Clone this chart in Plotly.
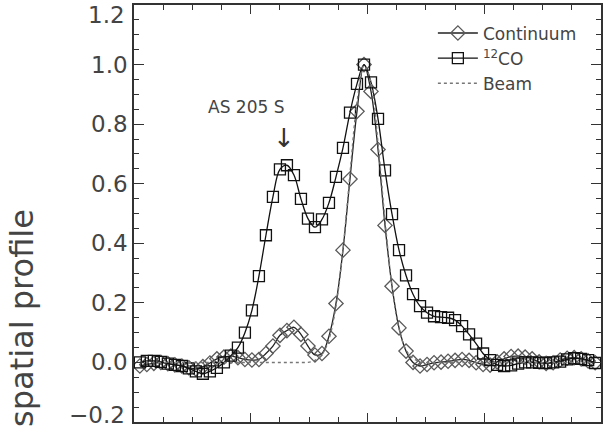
import plotly.graph_objects as go

# Offset along the cut (arcsec)
offset = [-3.90, -3.78, -3.66, -3.54, -3.42, -3.30, -3.18, -3.06, -2.94, -2.82,
          -2.70, -2.58, -2.46, -2.34, -2.22, -2.10, -1.98, -1.86, -1.74, -1.62,
          -1.50, -1.38, -1.26, -1.14, -1.02, -0.90, -0.78, -0.66, -0.54, -0.42,
          -0.30, -0.18, -0.06, 0.06, 0.18, 0.30, 0.42, 0.54, 0.66, 0.78,
          0.90, 1.02, 1.14, 1.26, 1.38, 1.50, 1.62, 1.74, 1.86, 1.98,
          2.10, 2.22, 2.34, 2.46, 2.58, 2.70, 2.82, 2.94, 3.06, 3.18,
          3.30, 3.42, 3.54, 3.66, 3.78, 3.90]

continuum = [-0.012, -0.007, -0.003, 0.000, -0.004, -0.008, -0.012, -0.018, -0.022, -0.014,
             -0.002, 0.012, 0.018, 0.021, 0.016, 0.010, 0.008, 0.010, 0.030, 0.055,
             0.091, 0.107, 0.118, 0.094, 0.055, 0.025, 0.030, 0.088, 0.198, 0.377,
             0.616, 0.843, 1.000, 0.910, 0.715, 0.460, 0.256, 0.116, 0.038, 0.000,
             -0.012, -0.007, -0.001, 0.001, 0.004, 0.007, 0.010, 0.007, -0.001, -0.007,
             -0.009, 0.002, 0.012, 0.020, 0.021, 0.018, 0.012, 0.002, -0.003, -0.001,
             0.008, 0.014, 0.016, 0.012, 0.005, -0.001]

co12 = [0.000, 0.005, 0.005, 0.002, -0.004, -0.008, -0.012, -0.020, -0.030, -0.038,
        -0.030, -0.018, 0.000, 0.023, 0.050, 0.100, 0.175, 0.290, 0.427, 0.556,
        0.648, 0.662, 0.629, 0.549, 0.483, 0.454, 0.480, 0.536, 0.623, 0.720,
        0.839, 0.935, 1.000, 0.940, 0.818, 0.645, 0.498, 0.377, 0.292, 0.229,
        0.189, 0.167, 0.155, 0.152, 0.150, 0.142, 0.122, 0.094, 0.063, 0.030,
        0.008, -0.008, -0.012, -0.010, -0.004, 0.000, 0.000, -0.001, -0.002, 0.000,
        0.003, 0.010, 0.014, 0.012, 0.008, -0.002]

beam = [0.0, 0.0, 0.0, 0.0, 0.0, 0.0, 0.0, 0.0, 0.0, 0.0,
        0.0, 0.0, 0.0, 0.0, 0.0, 0.0, 0.0, 0.0, 0.0, 0.0,
        0.0, 0.0, 0.0, 0.0, 0.0, 0.007, 0.026, 0.078, 0.189, 0.380,
        0.633, 0.873, 0.996, 0.941, 0.736, 0.477, 0.255, 0.113, 0.042, 0.013,
        0.003, 0.0, 0.0, 0.0, 0.0, 0.0, 0.0, 0.0, 0.0, 0.0,
        0.0, 0.0, 0.0, 0.0, 0.0, 0.0, 0.0, 0.0, 0.0, 0.0,
        0.0, 0.0, 0.0, 0.0, 0.0, 0.0]

y_tickvals = [-0.2, 0.0, 0.2, 0.4, 0.6, 0.8, 1.0, 1.2]
y_ticktext = ["", "0.0", "0.2", "0.4", "0.6", "0.8", "1.0", ""]

X_RANGE = [-4, 4]
Y_RANGE = [-0.2, 1.2]

FONT = "DejaVu Sans"
TXT = "#444444"
AX = "#333333"

fig = go.Figure()
fig.add_trace(go.Scatter(
    x=offset, y=continuum, mode="lines+markers", name="Continuum", legendrank=1,
    line=dict(color="#222222", width=1.3, shape="spline"),
    marker=dict(symbol="diamond-open", size=11, color="#5a5a5a", line=dict(width=1.3)),
))
fig.add_trace(go.Scatter(
    x=offset, y=co12, mode="lines+markers", name="<sup>12</sup>CO", legendrank=2,
    line=dict(color="#111111", width=1.3, shape="spline"),
    marker=dict(symbol="square-open", size=11, color="#111111", line=dict(width=1.3)),
))
# Beam drawn on the mirrored (top/right) axes, which share the same ranges
fig.add_trace(go.Scatter(
    x=offset, y=beam, mode="lines", name="Beam", legendrank=3,
    xaxis="x2", yaxis="y2",
    line=dict(color="#777777", width=1.4, dash="dot", shape="spline"),
))

axis_common = dict(
    showline=True, linecolor=AX, linewidth=1.6,
    ticks="inside", tickcolor=AX, tickwidth=1.3,
    showgrid=False, zeroline=False,
)
x_minor = dict(dtick=0.5, ticklen=5, ticks="inside", tickcolor=AX, tickwidth=1.3, showgrid=False)
y_minor = dict(dtick=0.05, ticklen=5, ticks="inside", tickcolor=AX, tickwidth=1.3, showgrid=False)

fig.update_layout(
    xaxis=dict(range=X_RANGE, dtick=2, tick0=0, ticklen=9, showticklabels=False,
               minor=x_minor, **axis_common),
    xaxis2=dict(range=X_RANGE, dtick=2, tick0=0, ticklen=9, showticklabels=False,
                minor=x_minor, overlaying="x", side="top", anchor="y", **axis_common),
    yaxis=dict(range=Y_RANGE, tickvals=y_tickvals, ticktext=y_ticktext, ticklen=10,
               tickfont=dict(family=FONT, size=23, color=TXT),
               minor=y_minor, **axis_common),
    yaxis2=dict(range=Y_RANGE, tickvals=y_tickvals, ticklen=10, showticklabels=False,
                minor=y_minor, overlaying="y", side="right", anchor="x", **axis_common),
)

# End labels of the y axis sit slightly inside the frame
fig.add_annotation(x=0, xref="paper", xanchor="right", xshift=-7,
                   y=1.2, yref="y", yanchor="middle", yshift=-10,
                   text="1.2", showarrow=False,
                   font=dict(family=FONT, size=23, color=TXT))
fig.add_annotation(x=0, xref="paper", xanchor="right", xshift=-7,
                   y=-0.2, yref="y", yanchor="middle", yshift=7,
                   text="\u22120.2", showarrow=False,
                   font=dict(family=FONT, size=23, color=TXT))
fig.add_annotation(x=-2.08, y=0.856, text="AS 205 S", showarrow=False,
                   font=dict(family=FONT, size=17, color=TXT))
fig.add_annotation(x=-1.43, y=0.755, text="\u2193", showarrow=False,
                   font=dict(family=FONT, size=26, color="#333333"))
fig.add_annotation(x=-0.24, xref="paper", xanchor="center",
                   y=0.5156, yref="paper", yanchor="top",
                   text="spatial profile", textangle=-90, showarrow=False,
                   font=dict(family=FONT, size=32, color=TXT))

fig.update_layout(
    width=605, height=426,
    margin=dict(l=134, r=4, t=5, b=4),
    plot_bgcolor="white", paper_bgcolor="white",
    showlegend=True,
    legend=dict(x=0.64, y=0.975, xanchor="left", yanchor="top",
                bgcolor="rgba(0,0,0,0)", font=dict(family=FONT, size=17, color=TXT),
                tracegroupgap=0, itemwidth=40),
)
fig.write_html("out.html")
